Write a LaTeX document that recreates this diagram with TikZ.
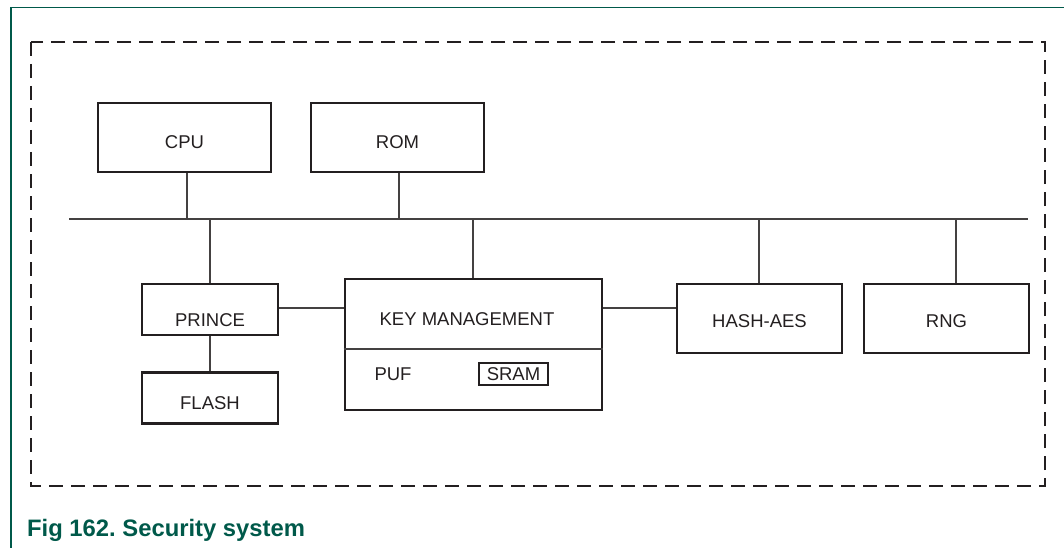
\documentclass[tikz,border=0pt]{standalone}
\usepackage{fontspec}
\setmainfont{Liberation Sans}
\frenchspacing
\definecolor{nxpgreen}{HTML}{00594A}
\definecolor{ink}{HTML}{231F20}
\begin{document}
\begin{tikzpicture}[x=1pt,y=-1pt,
  blk/.style={draw=ink,line width=2.8pt,inner sep=0pt,text=ink,font=\fontsize{18.5}{20}\selectfont},
  conn/.style={draw=ink!85,line width=1.4pt},
  frame/.style={draw=ink,line width=2.8pt,dash pattern=on 14pt off 8pt}]
\useasboundingbox (0,0) rectangle (1064,548);
% green page frame
\draw[nxpgreen,line width=1.4pt] (1064,7.5) -- (11,7.5) -- (11,548);
% dashed boundary
\draw[frame] (31,42) rectangle (1045,486);
% blocks
\node[blk,minimum width=173pt,minimum height=69pt,text height=22.2pt] (cpu) at (184.5,137.5) {CPU};
\node[blk,minimum width=173pt,minimum height=69pt,text height=22.2pt] (rom) at (397.5,137.5) {ROM};
\node[blk,minimum width=136pt,minimum height=51pt,text height=33.2pt] (prince) at (210,309.5) {PRINCE};
\node[blk,minimum width=136pt,minimum height=51pt,text height=23.2pt] (flash) at (210,398) {FLASH};
\node[blk,minimum width=257pt,minimum height=131pt] (km) at (473.5,344.5) {};
\node[blk,minimum width=165pt,minimum height=69pt,text height=17.2pt] (hash) at (759.5,318.5) {HASH-AES};
\node[blk,minimum width=165pt,minimum height=69pt,text height=17.2pt] (rng) at (946.5,318.5) {RNG};
% key management contents
\node[text=ink,font=\fontsize{18.5}{20}\selectfont] (kmlabel) at (467,319) {KEY MANAGEMENT};
\coordinate (divl) at (km.west |- 0,349);
\coordinate (divr) at (km.east |- 0,349);
\draw[conn,line width=1.5pt] (divl) -- (divr);
\node[text=ink,font=\fontsize{18.5}{20}\selectfont] (puf) at (393,374) {PUF};
\node[draw=ink,line width=2.2pt,inner sep=0pt,minimum width=69pt,minimum height=22pt,text=ink,font=\fontsize{18.5}{20}\selectfont] (sram) at (513.5,374) {SRAM};
% bus
\coordinate (busl) at (69,219);
\coordinate (busr) at (1028,219);
\draw[conn] (busl) -- (busr);
\coordinate (bcpu) at (187,219);
\coordinate (brom) at (399,219);
\coordinate (bpr) at (210,219);
\coordinate (bkm) at (473,219);
\coordinate (bhash) at (759,219);
\coordinate (brng) at (956,219);
\draw[conn] (bcpu) -- (bcpu |- cpu.south);
\draw[conn] (brom) -- (brom |- rom.south);
\draw[conn] (bpr) -- (bpr |- prince.north);
\draw[conn] (bkm) -- (bkm |- km.north);
\draw[conn] (bhash) -- (bhash |- hash.north);
\draw[conn] (brng) -- (brng |- rng.north);
% side links
\coordinate (lnk) at (0,308);
\draw[conn] (prince.east |- lnk) -- (km.west |- lnk);
\draw[conn] (km.east |- lnk) -- (hash.west |- lnk);
\draw[conn] (prince.south) -- (flash.north);
% caption
\node[anchor=base west,inner sep=0pt,text=nxpgreen,font=\fontsize{23.8}{26}\selectfont\bfseries] (cap) at (27,536.5) {Fig 162. Security system};
\end{tikzpicture}
\end{document}
